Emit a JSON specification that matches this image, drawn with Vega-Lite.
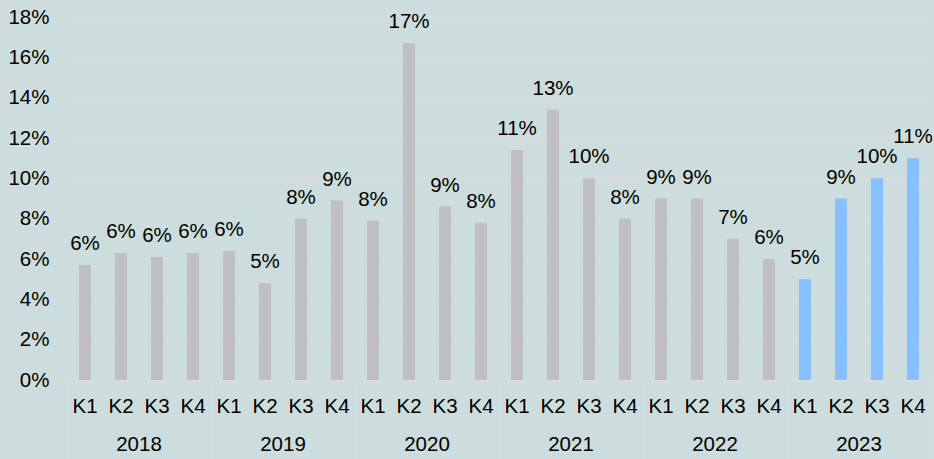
{
  "$schema": "https://vega.github.io/schema/vega-lite/v6.json",
  "width": 864,
  "height": 363,
  "autosize": {"type": "none"},
  "padding": {"left": 67, "top": 17, "right": 3, "bottom": 79},
  "background": "#cddcdc",
  "config": {
    "view": {"stroke": null},
    "font": "Liberation Sans",
    "axis": {"labelFont": "Liberation Sans", "labelFontSize": 20.5, "labelColor": "#000000"}
  },
  "data": {
    "values": [
      {"year": "2018", "q": "K1", "period": "2018 K1", "value": 0.057},
      {"year": "2018", "q": "K2", "period": "2018 K2", "value": 0.063},
      {"year": "2018", "q": "K3", "period": "2018 K3", "value": 0.061},
      {"year": "2018", "q": "K4", "period": "2018 K4", "value": 0.063},
      {"year": "2019", "q": "K1", "period": "2019 K1", "value": 0.064},
      {"year": "2019", "q": "K2", "period": "2019 K2", "value": 0.048},
      {"year": "2019", "q": "K3", "period": "2019 K3", "value": 0.080},
      {"year": "2019", "q": "K4", "period": "2019 K4", "value": 0.089},
      {"year": "2020", "q": "K1", "period": "2020 K1", "value": 0.079},
      {"year": "2020", "q": "K2", "period": "2020 K2", "value": 0.167},
      {"year": "2020", "q": "K3", "period": "2020 K3", "value": 0.086},
      {"year": "2020", "q": "K4", "period": "2020 K4", "value": 0.078},
      {"year": "2021", "q": "K1", "period": "2021 K1", "value": 0.114},
      {"year": "2021", "q": "K2", "period": "2021 K2", "value": 0.134},
      {"year": "2021", "q": "K3", "period": "2021 K3", "value": 0.100},
      {"year": "2021", "q": "K4", "period": "2021 K4", "value": 0.080},
      {"year": "2022", "q": "K1", "period": "2022 K1", "value": 0.090},
      {"year": "2022", "q": "K2", "period": "2022 K2", "value": 0.090},
      {"year": "2022", "q": "K3", "period": "2022 K3", "value": 0.070},
      {"year": "2022", "q": "K4", "period": "2022 K4", "value": 0.060},
      {"year": "2023", "q": "K1", "period": "2023 K1", "value": 0.050},
      {"year": "2023", "q": "K2", "period": "2023 K2", "value": 0.090},
      {"year": "2023", "q": "K3", "period": "2023 K3", "value": 0.100},
      {"year": "2023", "q": "K4", "period": "2023 K4", "value": 0.110}
    ]
  },
  "layer": [
    {
      "encoding": {
        "x": {
          "field": "period",
          "type": "ordinal",
          "sort": null,
          "scale": {"type": "band", "paddingInner": 0, "paddingOuter": 0},
          "axis": {
            "orient": "bottom",
            "title": null,
            "labelAngle": 0,
            "labelExpr": "split(datum.value, ' ')[1]",
            "domain": true,
            "domainColor": "#dcdcdc",
            "domainWidth": 1,
            "ticks": true,
            "tickSize": 79,
            "tickWidth": 1,
            "bandPosition": 1,
            "tickColor": {"condition": {"test": "datum.value == '2023 K4'", "value": "#dcdcdc"}, "value": "transparent"},
            "labelPadding": -63,
            "grid": false
          }
        },
        "y": {
          "field": "value",
          "type": "quantitative",
          "scale": {"domain": [0, 0.18]},
          "axis": {
            "title": null,
            "values": [0, 0.02, 0.04, 0.06, 0.08, 0.1, 0.12, 0.14, 0.16, 0.18],
            "format": ".0%",
            "labelPadding": 18,
            "ticks": false,
            "domain": false,
            "grid": true,
            "gridColor": "#dcdcdc",
            "gridWidth": 1
          }
        }
      },
      "layer": [
        {
          "mark": {"type": "bar", "width": 12},
          "encoding": {
            "color": {"condition": {"test": "datum.year == '2023'", "value": "#86c0ff"}, "value": "#c0c0c0"}
          }
        },
        {
          "mark": {"type": "text", "dy": -15, "baseline": "alphabetic", "fontSize": 20.5, "color": "#000000", "font": "Liberation Sans"},
          "encoding": {
            "text": {"field": "value", "type": "quantitative", "format": ".0%"}
          }
        }
      ]
    },
    {
      "mark": {"type": "tick", "opacity": 0},
      "encoding": {
        "x": {
          "field": "year",
          "type": "ordinal",
          "scale": {"type": "band", "paddingInner": 0, "paddingOuter": 0},
          "axis": {
            "orient": "bottom",
            "title": null,
            "labelAngle": 0,
            "domain": false,
            "ticks": true,
            "tickSize": 79,
            "tickWidth": 1,
            "tickColor": "#dcdcdc",
            "bandPosition": 0,
            "labelPadding": -25,
            "grid": false
          }
        }
      }
    }
  ],
  "resolve": {"scale": {"x": "independent"}, "axis": {"x": "independent"}}
}
